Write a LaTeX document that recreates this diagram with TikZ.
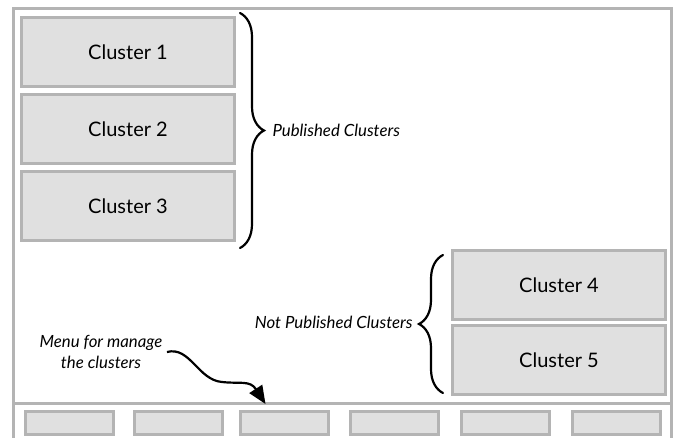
\documentclass[tikz,border=0pt]{standalone}
\usepackage{fontspec}
\setmainfont{Lato}
\usetikzlibrary{arrows.meta,decorations.pathreplacing,calc}
\definecolor{framegray}{HTML}{B4B4B4}
\definecolor{boxgray}{HTML}{E0E0E0}
\begin{document}
\begin{tikzpicture}[x=1pt, y=-1pt,
  cluster/.style={draw=framegray, fill=boxgray, line width=3pt, minimum width=213pt, minimum height=69pt, font=\fontsize{20}{24}\selectfont},
  menubtn/.style={draw=framegray, fill=boxgray, line width=3pt, minimum width=88pt, minimum height=23pt},
  note/.style={font=\fontsize{16.8}{21}\selectfont\itshape, align=center},
  bracket/.style={decorate, decoration={brace, amplitude=24pt}, line width=2.2pt, line cap=round}]
\useasboundingbox (0,0) rectangle (681,438);

% 枠
\draw[framegray, line width=3pt] (13,440) -- (13,9) -- (671,9) -- (671,440);
\draw[framegray, line width=3pt] (13,404) -- (671,404);

% ノード(座標で配置)
\node[cluster] (c1) at (128,52)  {Cluster 1};
\node[cluster] (c2) at (128,129) {Cluster 2};
\node[cluster] (c3) at (128,206) {Cluster 3};
\node[cluster] (c4) at (559,285) {Cluster 4};
\node[cluster] (c5) at (559,360) {Cluster 5};

% メニュー
\node[menubtn] (btn1) at (69,423)  {};
\node[menubtn] (btn2) at (178,423) {};
\node[menubtn] (btn3) at (284,423) {};
\node[menubtn] (btn4) at (394,423) {};
\node[menubtn] (btn5) at (505,423) {};
\node[menubtn] (btn6) at (616,423) {};

% 注記
\node[note, anchor=west] (pub)    at (269,130) {Published Clusters};
\node[note, anchor=east] (notpub) at (416,322) {Not Published Clusters};
\node[note]              (menu)   at (101,352) {Menu for manage\\the clusters};

% 括弧
\draw[bracket] ($(c1.north east)+(4,-3)$) -- ($(c3.south east)+(4,6)$);
\draw[bracket] ($(c5.south west)+(-8,-3)$) -- ($(c4.north west)+(-8,6)$);

% 矢印
\coordinate (menutip) at ($(btn3.north west)+(27,-6)$);
\draw[-{Triangle[length=18pt,width=15pt]}, line width=2.2pt]
  ($(menu.east)+(1,0)$) .. controls (190,346) and (198,380) .. (222,382)
  .. controls (240,384) and (250,380) .. (menutip);
\end{tikzpicture}
\end{document}
